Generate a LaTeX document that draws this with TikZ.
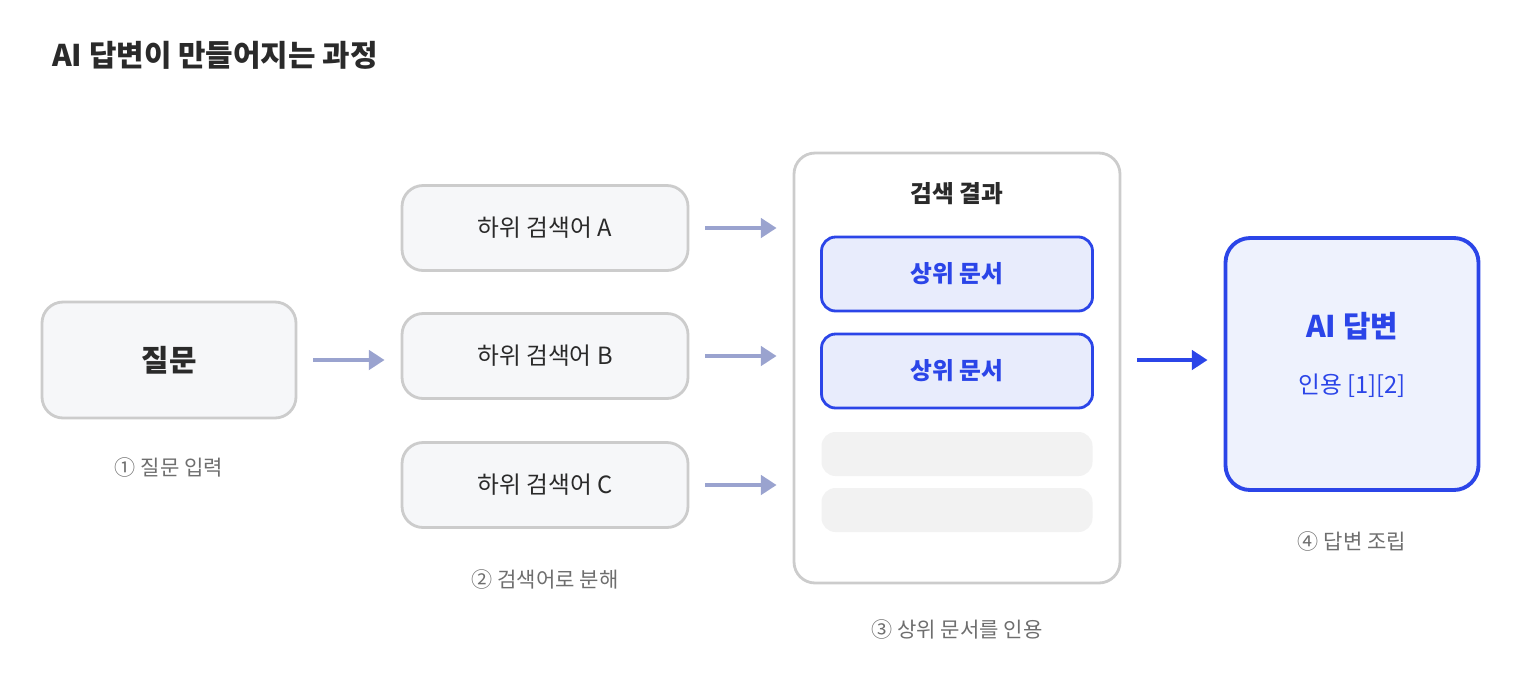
\documentclass[tikz,border=0pt]{standalone}
\usepackage{fontspec}
\setmainfont{Noto Sans CJK KR}
\usepackage{tikz}
\usetikzlibrary{arrows.meta,positioning}
\definecolor{ink}{HTML}{2A2A2A}
\definecolor{capgray}{HTML}{6E6E6E}
\definecolor{edgegray}{HTML}{CCCCCC}
\definecolor{boxfill}{HTML}{F6F7F9}
\definecolor{docblue}{HTML}{2B45E8}
\definecolor{docfill}{HTML}{E8ECFC}
\definecolor{ansfill}{HTML}{EEF2FD}
\definecolor{slot}{HTML}{F2F2F2}
\definecolor{flow}{HTML}{9AA3CF}
\tikzset{
        base/.style={align=center, rounded corners=12pt, line width=1.6pt},
        stage/.style={base, draw=edgegray, fill=boxfill, text=ink},
        query/.style={stage, minimum width=254*0.02cm, minimum height=116*0.02cm,
                      font=\fontsize{17}{20}\selectfont\bfseries},
        sub/.style={stage, minimum width=286*0.02cm, minimum height=85*0.02cm,
                    font=\fontsize{13.5}{16}\selectfont},
        doc/.style={base, rounded corners=8pt, draw=docblue, fill=docfill, text=docblue,
                    minimum width=271*0.02cm, minimum height=74*0.02cm,
                    font=\fontsize{13.5}{16}\selectfont\bfseries},
        empty/.style={rounded corners=8pt, fill=slot, minimum width=271*0.02cm,
                      minimum height=44*0.02cm},
        caption/.style={text=capgray, font=\fontsize{12}{14}\selectfont},
        myarrow/.style={-{Triangle[length=9pt,width=11pt]}, line width=2.4pt, draw=flow},
        bluearrow/.style={myarrow, draw=docblue},
 }
\begin{document}
\begin{tikzpicture}[x=0.02cm,y=-0.02cm]
        \useasboundingbox (0,0) rectangle (1520,680);
        \node[anchor=west, text=ink, font=\fontsize{17}{20}\selectfont\bfseries]
             (title) at (46,55) {AI 답변이 만들어지는 과정};

        \node[query] (q) at (169,360) {질문};
        \node[caption] (c1) at (169,467) {① 질문 입력};

        \node[sub] (sa) at (545,228) {하위 검색어 A};
        \node[sub] (sb) at (545,356) {하위 검색어 B};
        \node[sub] (sc) at (545,485) {하위 검색어 C};
        \node[caption] (c2) at (545,579) {② 검색어로 분해};

        \node[base, draw=edgegray, fill=white, minimum width=326*0.02cm,
              minimum height=430*0.02cm] (res) at (957,368) {};
        \node[text=ink, font=\fontsize{13.5}{16}\selectfont\bfseries] (rest) at (957,194) {검색 결과};
        \node[doc] (d1) at (957,274) {상위 문서};
        \node[doc] (d2) at (957,371) {상위 문서};
        \node[empty] (e1) at (957,454) {};
        \node[empty] (e2) at (957,510) {};
        \node[caption] (c3) at (957,629) {③ 상위 문서를 인용};

        \node[base, rounded corners=14pt, draw=docblue, fill=ansfill, line width=2.2pt,
              minimum width=253*0.02cm, minimum height=252*0.02cm] (ans) at (1352,364) {};
        \node[text=docblue, font=\fontsize{17}{20}\selectfont\bfseries] (anst) at (1352,326) {AI 답변};
        \node[text=docblue, font=\fontsize{13.5}{16}\selectfont] (cite) at (1352,386) {인용 [1][2]};
        \node[caption] (c4) at (1352,541) {④ 답변 조립};

        \draw[myarrow, shorten <=16*0.02cm, shorten >=16*0.02cm] (q.east) -- (q.east -| sb.west);
        \draw[myarrow, shorten <=16*0.02cm, shorten >=16*0.02cm] (sa.east) -- (sa.east -| res.west);
        \draw[myarrow, shorten <=16*0.02cm, shorten >=16*0.02cm] (sb.east) -- (sb.east -| res.west);
        \draw[myarrow, shorten <=16*0.02cm, shorten >=16*0.02cm] (sc.east) -- (sc.east -| res.west);
        \draw[bluearrow, shorten <=16*0.02cm, shorten >=16*0.02cm] (res.east |- q.east) -- (ans.west |- q.east);
\end{tikzpicture}
\end{document}
